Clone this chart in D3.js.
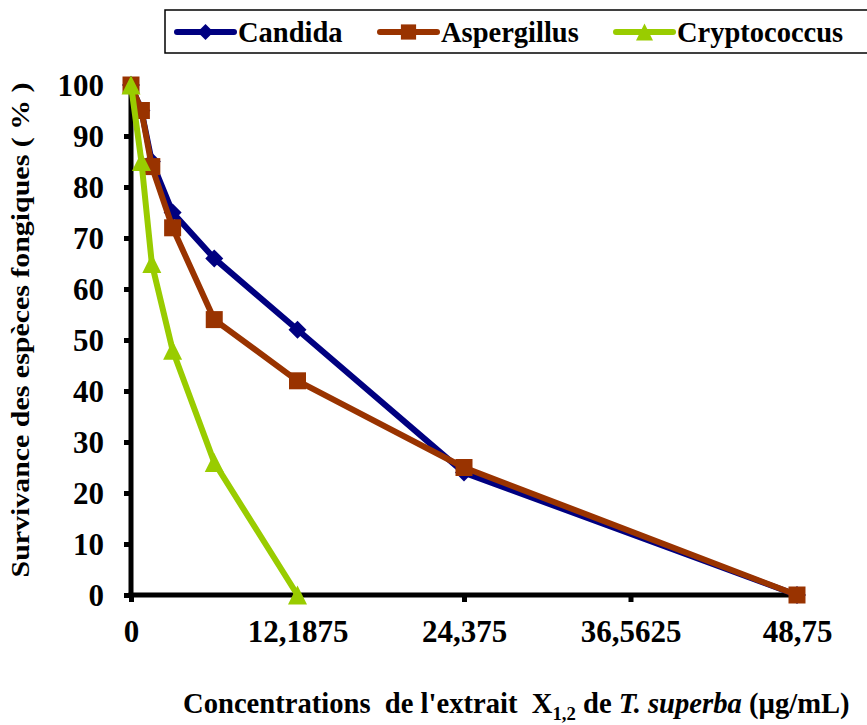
<!DOCTYPE html>
<html>
<head>
<meta charset="utf-8">
<script src="https://cdn.jsdelivr.net/npm/d3@7"></script>
<style>
body { margin: 0; background: #fff; }
svg { display: block; }
</style>
</head>
<body>
<div id="chart"></div>
<script>
// concentrations (µg/mL)
const concentrations = [0, 0.76171875, 1.5234375, 3.046875, 6.09375, 12.1875, 24.375, 48.75];
const xTicks = [0, 12.1875, 24.375, 36.5625, 48.75];
const xTickLabels = ['0', '12,1875', '24,375', '36,5625', '48,75'];
const yTicks = [0, 10, 20, 30, 40, 50, 60, 70, 80, 90, 100];

// survival (%)
const candida = [100, 95, 85, 75, 66, 52, 24, 0];
const aspergillus = [100, 95, 84, 72, 54, 42, 25, 0];
const cryptococcus = [100, 85, 65, 48, 26, 0];

const FONT = 'Liberation Serif';
const NBSP = '\u00a0';

// excel-like markers
const diamond = {draw(ctx, size) {
	const r = Math.sqrt(size) / 2;
	ctx.moveTo(0, -r); ctx.lineTo(r, 0); ctx.lineTo(0, r); ctx.lineTo(-r, 0); ctx.closePath();
}};
const square = {draw(ctx, size) {
	const w = Math.sqrt(size) / 2;
	ctx.rect(-w, -w, 2 * w, 2 * w);
}};
const triangle = {draw(ctx, size) {
	const r = Math.sqrt(size) / 2;
	ctx.moveTo(0, -r); ctx.lineTo(r, r); ctx.lineTo(-r, r); ctx.closePath();
}};

const series = [
	{name: 'Candida', values: candida, color: '#000080', symbol: diamond, size: 18 * 18},
	{name: 'Aspergillus', values: aspergillus, color: '#993300', symbol: square, size: 17 * 17},
	{name: 'Cryptococcus', values: cryptococcus, color: '#99cc00', symbol: triangle, size: 19 * 19}
];

const width = 867, height = 725;
const svg = d3.select('#chart').append('svg')
	.attr('width', width).attr('height', height)
	.attr('font-family', FONT).attr('font-weight', 'bold');

const x = d3.scaleLinear().domain([0, 48.75]).range([131, 797]);
const y = d3.scaleLinear().domain([0, 100]).range([595, 85]);

// axes
const xAxis = d3.axisBottom(x).tickValues(xTicks).tickFormat((d, i) => xTickLabels[i])
	.tickSizeInner(7).tickSizeOuter(0);
const yAxis = d3.axisLeft(y).tickValues(yTicks)
	.tickSizeInner(7).tickSizeOuter(0);

const gx = svg.append('g').attr('transform', 'translate(0,' + y(0) + ')').call(xAxis);
const gy = svg.append('g').attr('transform', 'translate(' + x(0) + ',0)').call(yAxis);
[gx, gy].forEach(g => {
	g.attr('font-family', FONT).attr('font-size', 31);
	g.select('.domain').attr('stroke', '#000').attr('stroke-width', 5);
	g.selectAll('.tick line').attr('stroke', '#000').attr('stroke-width', 5);
	g.selectAll('.tick text').attr('fill', '#000').attr('font-family', FONT)
		.attr('font-weight', 'bold').attr('font-size', 31);
});
gx.selectAll('.tick text').attr('y', 47).attr('dy', 0);
gy.selectAll('.tick text').attr('x', -27).attr('dy', '0.33em');
gy.select('.domain').attr('d', 'M0,' + (y(0) + 2.5) + 'V' + (y(100) - 2));
gx.select('.domain').attr('d', 'M' + (x(0) - 2.5) + ',0H' + (x(48.75) + 2));

// lines and markers
const line = d3.line().x(d => x(d[0])).y(d => y(d[1]));
series.forEach(s => {
	const pts = s.values.map((v, i) => [concentrations[i], v]);
	const g = svg.append('g');
	g.append('path').datum(pts).attr('d', line)
		.attr('fill', 'none').attr('stroke', s.color).attr('stroke-width', 6)
		.attr('stroke-linejoin', 'round');
	g.selectAll('path.m').data(pts).join('path').attr('class', 'm')
		.attr('transform', d => 'translate(' + x(d[0]) + ',' + y(d[1]) + ')')
		.attr('d', d3.symbol().type(s.symbol).size(s.size))
		.attr('fill', s.color);
});

// legend
const legend = svg.append('g');
legend.append('rect').attr('x', 165).attr('y', 10).attr('width', 720).attr('height', 43)
	.attr('fill', '#fff').attr('stroke', '#000').attr('stroke-width', 1.5);
const legendX = [177, 380, 616];
series.forEach((s, i) => {
	const lg = legend.append('g').attr('transform', 'translate(' + legendX[i] + ',32)');
	lg.append('line').attr('x1', 0).attr('x2', 57).attr('stroke', s.color)
		.attr('stroke-width', 6).attr('stroke-linecap', 'round');
	lg.append('path').attr('transform', 'translate(28.5,0)')
		.attr('d', d3.symbol().type(s.symbol).size(s.size * 0.8)).attr('fill', s.color);
	lg.append('text').attr('x', 61).attr('y', 10).attr('font-size', 28.5).text(s.name);
});

// axis titles
svg.append('text')
	.attr('transform', 'translate(29,330) rotate(-90)')
	.attr('text-anchor', 'middle').attr('font-size', 26)
	.attr('textLength', 495).attr('lengthAdjust', 'spacingAndGlyphs')
	.text('Survivance des espèces fongiques (' + NBSP + '%' + NBSP + ')');

const xt = svg.append('text').attr('x', 0).attr('y', 0).attr('font-size', 29);
xt.append('tspan').text('Concentrations' + NBSP + ' de l\'extrait' + NBSP + ' X');
xt.append('tspan').attr('font-size', 19).attr('dy', 7).text('1,2');
xt.append('tspan').attr('dy', -7).text(NBSP + 'de ');
xt.append('tspan').attr('font-style', 'italic').text('T. superba');
xt.append('tspan').text(NBSP + '(µg/mL)');
const xtLen = xt.node().getComputedTextLength();
xt.attr('transform', 'translate(183,713) scale(' + (667 / xtLen) + ',1)');
</script>
</body>
</html>
